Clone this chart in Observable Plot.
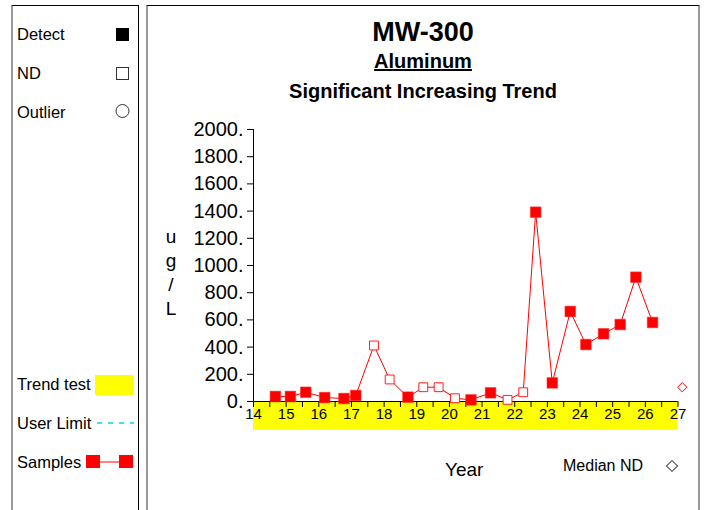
<!DOCTYPE html>
<html>
<head>
<meta charset="utf-8">
<script src="https://cdn.jsdelivr.net/npm/d3@7"></script>
<script src="https://cdn.jsdelivr.net/npm/@observablehq/plot@0.6"></script>
<style>
  html, body { margin: 0; padding: 0; background: #fff; }
  #root { position: relative; width: 705px; height: 510px; overflow: hidden; font-family: "Liberation Sans", Arial, sans-serif; color: #000; }
  .abs { position: absolute; white-space: nowrap; }
</style>
</head>
<body>
<div id="root"></div>
<script>
// ---- data ----
const years = [14.67, 15.13, 15.6, 16.18, 16.77, 17.13, 17.69, 18.17, 18.73, 19.2, 19.67, 20.17,
               20.66, 21.26, 21.78, 22.26, 22.64, 23.15, 23.7, 24.18, 24.72, 25.23, 25.71, 26.22];
const values = [37, 37, 68, 29, 22, 44, 412, 162, 32, 105, 105, 24,
                12, 64, 12, 68, 1392, 137, 662, 419, 498, 566, 914, 581];
const detected = [1, 1, 1, 1, 1, 1, 0, 0, 1, 0, 0, 0,
                  1, 1, 0, 0, 1, 1, 1, 1, 1, 1, 1, 1];
const medianNDYear = [27.13];
const medianNDValue = [105];
const trendYears = [14, 27];
const xDomain = [14, 27];
const yDomain = [0, 2000];
const yTicks = [0, 200, 400, 600, 800, 1000, 1200, 1400, 1600, 1800, 2000];
const xTicks = d3.range(14, 27.001, 0.5);
const titleText = "MW-300";
const analyteText = "Aluminum";
const trendText = "Significant Increasing Trend";
const yLabelText = "u\ng\n/\nL";
const legendLabels = ["Detect", "ND", "Outlier", "Trend test", "User Limit", "Samples"];

const samples = years.map((x, i) => ({x, y: values[i], det: detected[i] === 1}));
const medianND = medianNDYear.map((x, i) => ({x, y: medianNDValue[i]}));

const root = document.getElementById("root");
function box(style) {
  const d = document.createElement("div");
  d.className = "abs";
  d.style.cssText += "box-sizing:border-box;" + style;
  root.appendChild(d);
  return d;
}
function label(text, left, cy, fs, extra = "") {
  const d = document.createElement("div");
  d.className = "abs";
  d.textContent = text;
  d.style.cssText += `left:${left}px;top:${cy - fs}px;height:${2 * fs}px;line-height:${2 * fs}px;font-size:${fs}px;` + extra;
  root.appendChild(d);
  return d;
}

// panels
box("left:11px;top:5px;width:128px;height:600px;border-top:1px solid #000;border-left:2px solid #999;border-right:1px solid #000;");
box("left:146px;top:5px;width:554px;height:600px;border-top:1px solid #000;border-left:2px solid #999;border-right:2px solid #999;");

// titles
label(titleText, 146, 32, 27, "width:554px;text-align:center;font-weight:bold;");
label(analyteText, 146, 61, 20, "width:554px;text-align:center;font-weight:bold;text-decoration:underline;");
label(trendText, 146, 91, 20, "width:554px;text-align:center;font-weight:bold;");

// left legend labels
const legY = [34, 73, 112, 384, 423, 462];
legendLabels.forEach((t, i) => label(t, 17, legY[i], 16.5));

// y label
const yl = document.createElement("div");
yl.className = "abs";
yl.style.cssText += "left:162px;top:225px;width:18px;text-align:center;font-size:19px;line-height:24px;white-space:pre;";
yl.textContent = yLabelText;
root.appendChild(yl);

// x label + median ND legend
label("Year", 445, 470, 19);
label("Median ND", 563, 466, 16);

// legend glyphs (non-data)
const ns = "http://www.w3.org/2000/svg";
const lsvg = document.createElementNS(ns, "svg");
lsvg.setAttribute("width", 705); lsvg.setAttribute("height", 510);
lsvg.style.cssText = "position:absolute;left:0;top:0;pointer-events:none;";
lsvg.innerHTML = `
  <rect x="116" y="28" width="13" height="13" fill="#000"/>
  <rect x="116.5" y="67.5" width="12" height="12" fill="none" stroke="#333" stroke-width="1"/>
  <circle cx="122.5" cy="111" r="6.5" fill="none" stroke="#333" stroke-width="1"/>
  <rect x="95" y="375" width="38" height="20" fill="#ffff00"/>
  <line x1="97" x2="134" y1="423" y2="423" stroke="#00d8ee" stroke-width="1.3" stroke-dasharray="5,6"/>
  <line x1="93" x2="126" y1="462" y2="462" stroke="#ff0000" stroke-width="1"/>
  <rect x="86" y="455" width="14" height="13" fill="#ff0000"/>
  <rect x="119" y="455" width="14" height="13" fill="#ff0000"/>
  <path d="M672,460.5 L677.5,466 L672,471.5 L666.5,466 Z" fill="#fff" stroke="#000" stroke-width="1"/>
`;
root.appendChild(lsvg);

// chart
const chart = Plot.plot({
  width: 549,
  height: 400,
  marginLeft: 105,
  marginRight: 19.5,
  marginTop: 19,
  marginBottom: 109,
  style: {background: "transparent", fontFamily: "'Liberation Sans', Arial, sans-serif", color: "#000", overflow: "visible"},
  x: {domain: xDomain},
  y: {domain: yDomain},
  marks: [
    Plot.rect([{}], {x1: trendYears[0], x2: trendYears[1], y1: 0, y2: -213, fill: "#ffff00"}),
    Plot.ruleX([xDomain[0]], {stroke: "#000"}),
    Plot.ruleY([yDomain[0]], {stroke: "#000"}),
    Plot.axisX({ticks: xTicks, tickSize: 6, tickPadding: 1, fontSize: 15,
                tickFormat: d => Number.isInteger(d) ? String(d) : "", label: null, stroke: "#000"}),
    Plot.axisY({ticks: yTicks, tickSize: 6, tickPadding: 4, fontSize: 20,
                tickFormat: d => d + ".", label: null, stroke: "#000"}),
    Plot.line(samples, {x: "x", y: "y", stroke: "#ff0000", strokeWidth: 1}),
    Plot.dot(samples.filter(d => d.det), {x: "x", y: "y", symbol: "square", r: 6, fill: "#ff0000", stroke: "#ff3030", strokeWidth: 0.5}),
    Plot.dot(samples.filter(d => !d.det), {x: "x", y: "y", symbol: "square", r: 5, fill: "#fff", stroke: "#ff2020", strokeWidth: 1}),
    Plot.dot(medianND, {x: "x", y: "y", symbol: "diamond2", r: 4.2, fill: "#fff", stroke: "#ff0000", strokeWidth: 1})
  ]
});
chart.style.position = "absolute";
chart.style.left = "148px";
chart.style.top = "110px";
root.appendChild(chart);
</script>
</body>
</html>
